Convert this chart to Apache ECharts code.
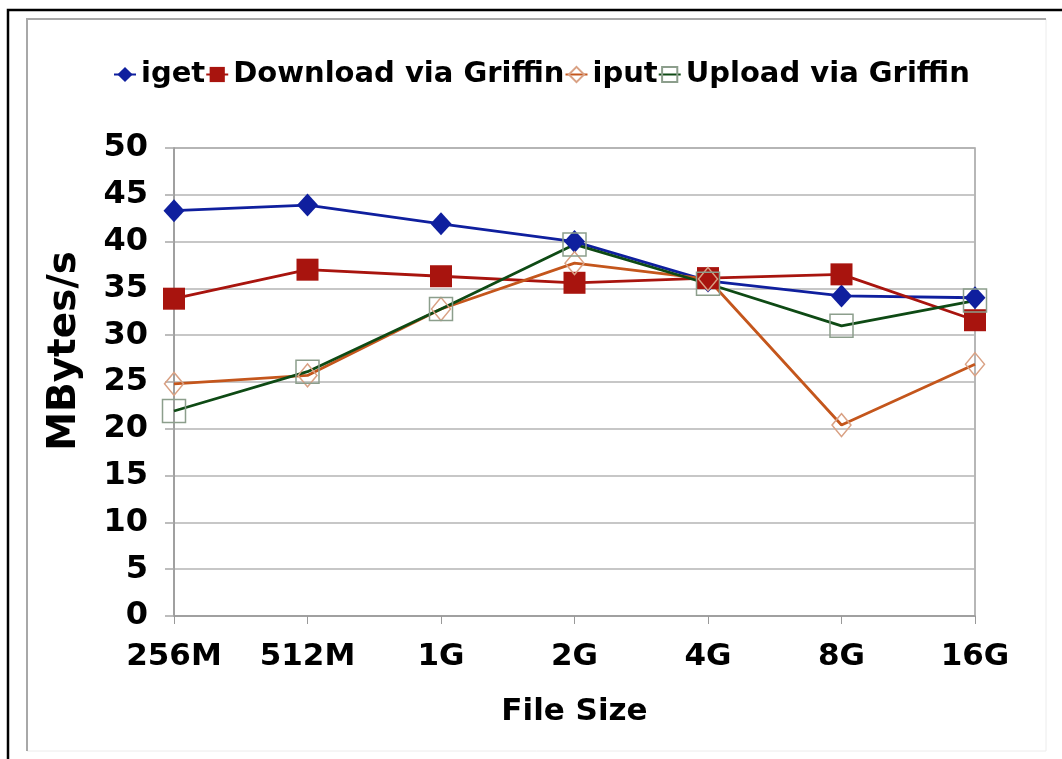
<!DOCTYPE html>
<html>
<head>
<meta charset="utf-8">
<title>Transfer throughput by file size</title>
<script src="https://cdn.jsdelivr.net/npm/echarts@6/dist/echarts.min.js"></script>
<style>
  html, body { margin: 0; padding: 0; background: #ffffff; }
  #chart { width: 1062px; height: 759px; }
</style>
</head>
<body>
<div id="chart"></div>
<script>
// File sizes tested
const categories = ['256M', '512M', '1G', '2G', '4G', '8G', '16G'];

// Throughput in MBytes/s
const igetValues     = [43.3, 43.9, 41.9, 40.0, 35.8, 34.2, 34.0];
const downloadValues = [33.9, 37.0, 36.3, 35.6, 36.1, 36.5, 31.6];
const iputValues     = [24.8, 25.7, 32.8, 37.7, 36.0, 20.4, 26.9];
const uploadValues   = [21.9, 26.1, 32.8, 39.7, 35.5, 31.0, 33.7];

const seriesNames = ['iget', 'Download via Griffin', 'iput', 'Upload via Griffin'];

const FONT = '"DejaVu Sans", Verdana, sans-serif';

const chart = echarts.init(document.getElementById('chart'), null, { renderer: 'canvas' });

chart.setOption({
  backgroundColor: '#ffffff',
  animation: false,
  graphic: [
    // outer frame
    { type: 'rect', shape: { x: 8, y: 10, width: 1100, height: 800 },
      style: { fill: 'none', stroke: '#000000', lineWidth: 2.5 }, silent: true },
    // inner panel
    { type: 'rect', shape: { x: 27, y: 19, width: 1019, height: 732 },
      style: { fill: 'none', stroke: '#ececec', lineWidth: 1 }, silent: true },
    { type: 'polyline', shape: { points: [[27, 751], [27, 19], [1046, 19]] },
      style: { fill: 'none', stroke: '#a8a8a8', lineWidth: 2 }, silent: true }
  ],
  legend: {
    data: seriesNames,
    left: 108,
    top: 55,
    itemWidth: 22,
    itemHeight: 19,
    itemGap: 0,
    textStyle: { fontFamily: FONT, fontWeight: 'bold', fontSize: 29, color: '#000000' }
  },
  grid: {
    left: 174, right: 87, top: 148, bottom: 143,
    show: true, borderColor: '#a0a0a0', borderWidth: 1.5
  },
  xAxis: {
    type: 'category',
    data: categories,
    boundaryGap: false,
    name: 'File Size',
    nameLocation: 'middle',
    nameGap: 80,
    nameTextStyle: { fontFamily: FONT, fontWeight: 'bold', fontSize: 31, color: '#000000' },
    axisLine: { lineStyle: { color: '#999999', width: 1.5 } },
    axisTick: { show: true, length: 8, alignWithLabel: true, lineStyle: { color: '#999999' } },
    axisLabel: { margin: 25, fontFamily: FONT, fontWeight: 'bold', fontSize: 31, color: '#000000' },
    splitLine: { show: false }
  },
  yAxis: {
    type: 'value',
    min: 0, max: 50, interval: 5,
    name: 'MBytes/s',
    nameLocation: 'middle',
    nameGap: 90,
    nameRotate: 90,
    nameTextStyle: { fontFamily: FONT, fontWeight: 'bold', fontSize: 39, color: '#000000', padding: [0, 0, 0, 62] },
    axisLine: { show: true, lineStyle: { color: '#999999', width: 1.5 } },
    axisTick: { show: true, length: 9, lineStyle: { color: '#a8a8a8', width: 1.5 } },
    axisLabel: { margin: 26, fontFamily: FONT, fontWeight: 'bold', fontSize: 32, color: '#000000' },
    splitLine: { lineStyle: { color: '#b4b4b4', width: 1.5 } }
  },
  series: [
    {
      name: 'iget', type: 'line', data: igetValues,
      symbol: 'diamond', symbolSize: [21, 23],
      lineStyle: { color: '#0f1f9e', width: 2.8 },
      itemStyle: { color: '#0f1f9e' }
    },
    {
      name: 'Download via Griffin', type: 'line', data: downloadValues,
      symbol: 'rect', symbolSize: [22, 22],
      lineStyle: { color: '#a8140e', width: 2.8 },
      itemStyle: { color: '#a8140e' }
    },
    {
      name: 'iput', type: 'line', data: iputValues,
      symbol: 'diamond', symbolSize: [19, 23],
      lineStyle: { color: '#c4561c', width: 2.8 },
      itemStyle: { color: 'rgba(255,255,255,0)', borderColor: '#d9a184', borderWidth: 1.5 }
    },
    {
      name: 'Upload via Griffin', type: 'line', data: uploadValues,
      symbol: 'rect', symbolSize: [23, 23],
      lineStyle: { color: '#0e4a14', width: 2.8 },
      itemStyle: { color: 'rgba(255,255,255,0)', borderColor: '#8c9e8c', borderWidth: 1.5 }
    }
  ]
});
</script>
</body>
</html>
